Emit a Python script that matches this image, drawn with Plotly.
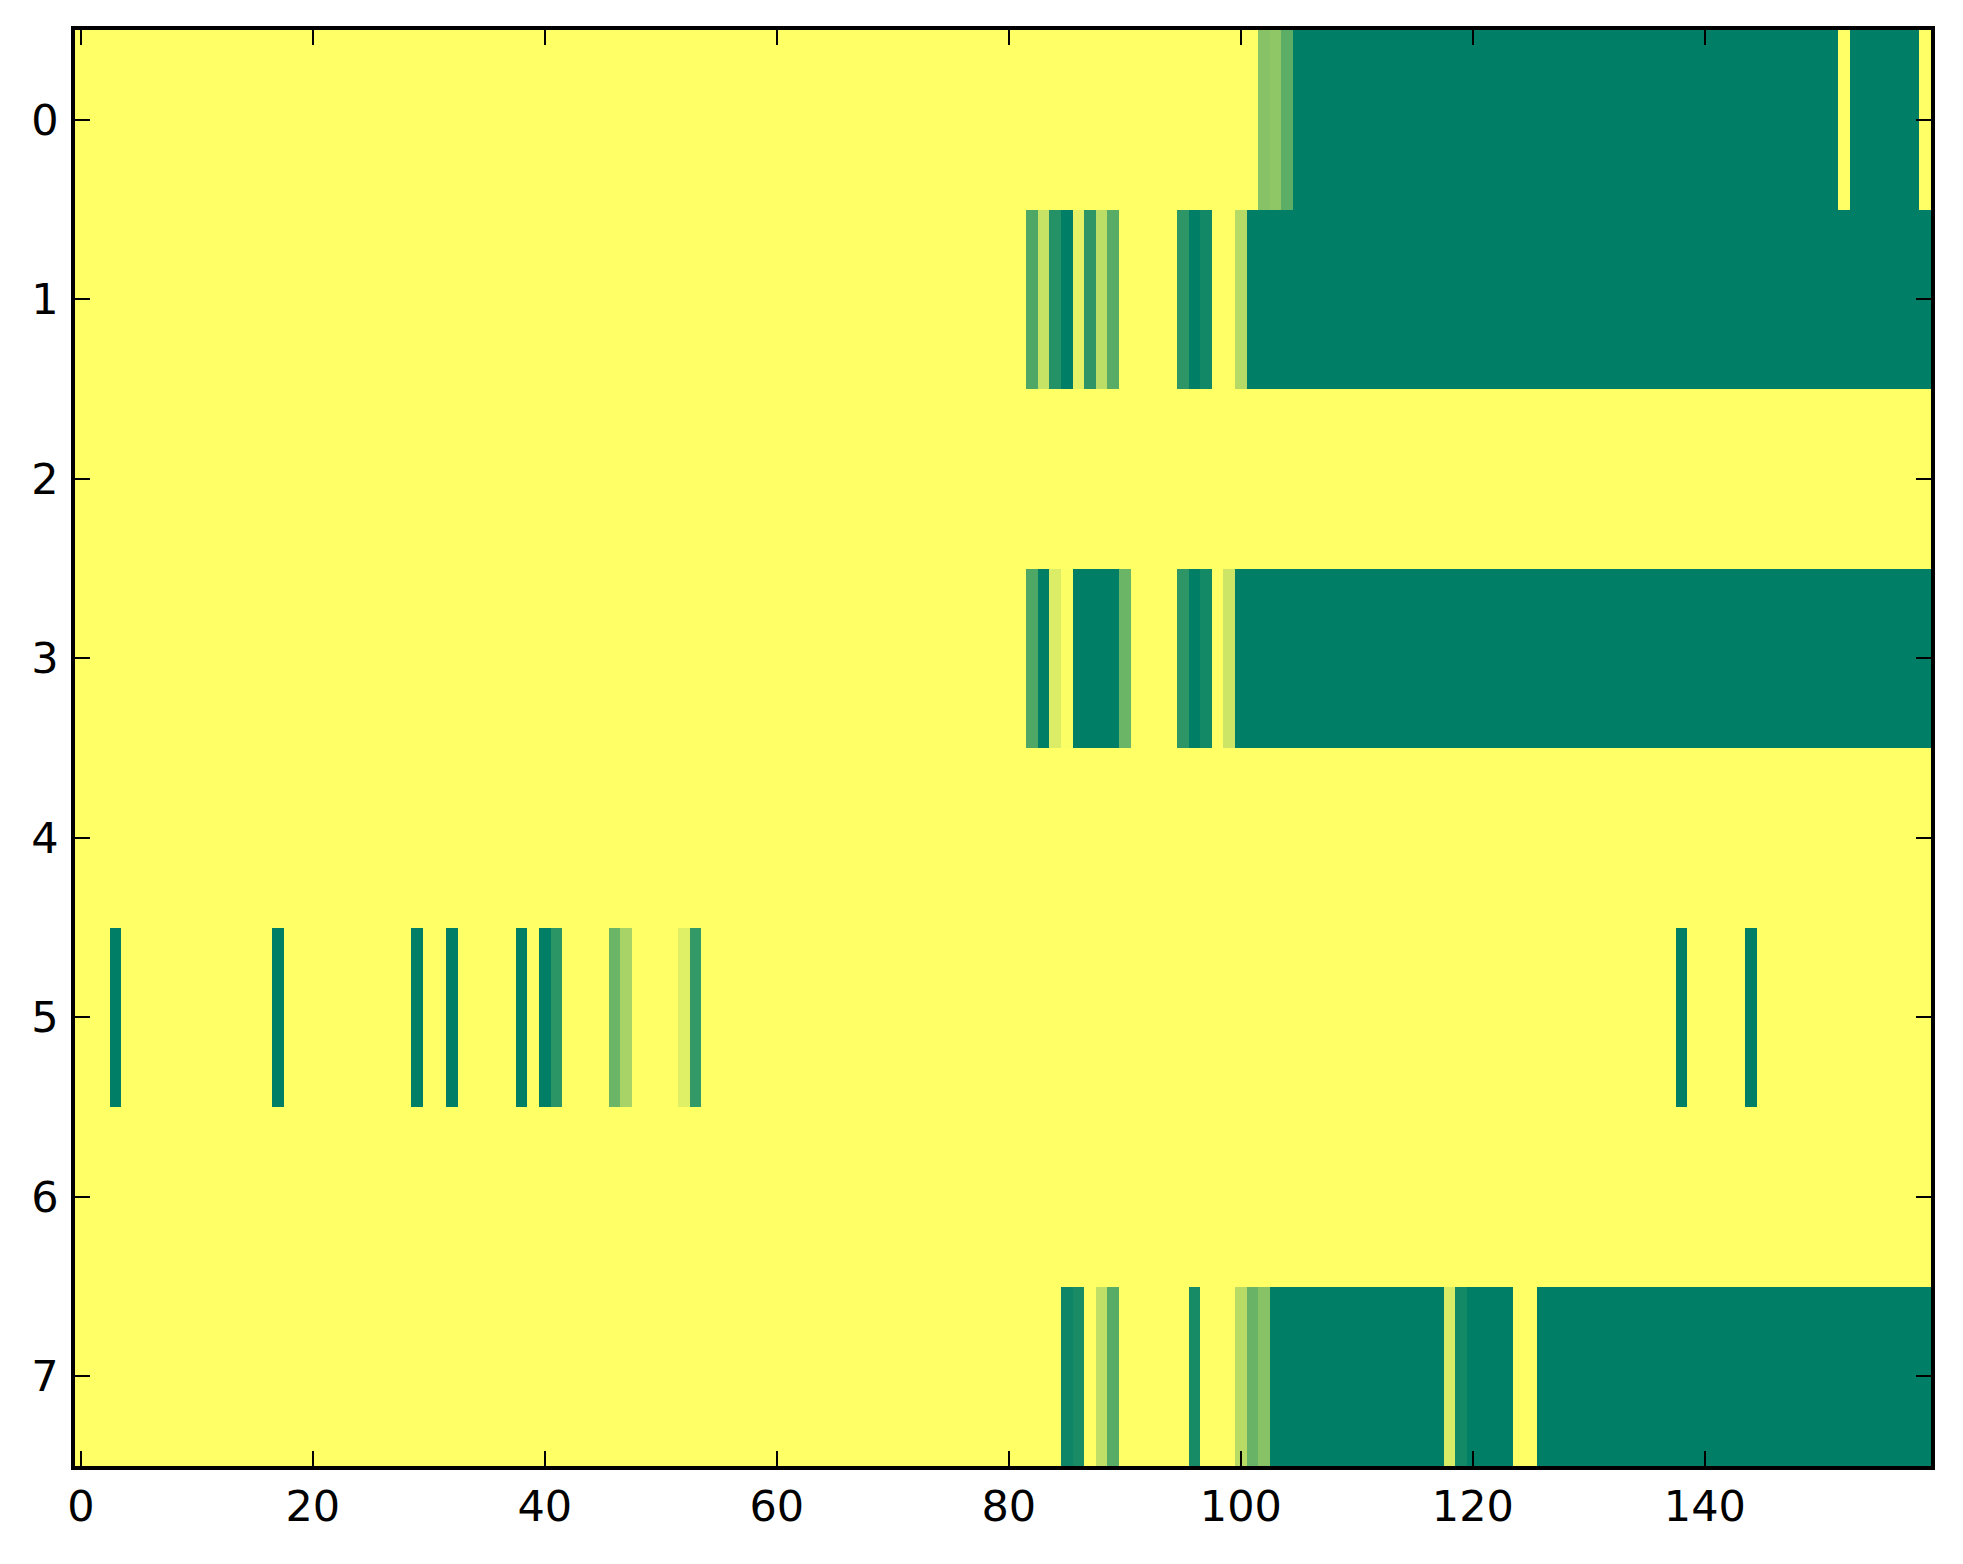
import plotly.graph_objects as go


# --------------------------------------------------------------
# Data: 8 rows x 160 columns, values 0..1
# --------------------------------------------------------------

row_0 = [
    0, 0, 0, 0, 0, 0, 0, 0, 0, 0, 0, 0, 0, 0, 0, 0, 0, 0, 0, 0,
    0, 0, 0, 0, 0, 0, 0, 0, 0, 0, 0, 0, 0, 0, 0, 0, 0, 0, 0, 0,
    0, 0, 0, 0, 0, 0, 0, 0, 0, 0, 0, 0, 0, 0, 0, 0, 0, 0, 0, 0,
    0, 0, 0, 0, 0, 0, 0, 0, 0, 0, 0, 0, 0, 0, 0, 0, 0, 0, 0, 0,
    0, 0, 0, 0, 0, 0, 0, 0, 0, 0, 0, 0, 0, 0, 0, 0, 0, 0, 0, 0,
    0, 0, .47, .44, .64, 1, 1, 1, 1, 1, 1, 1, 1, 1, 1, 1, 1, 1, 1, 1,
    1, 1, 1, 1, 1, 1, 1, 1, 1, 1, 1, 1, 1, 1, 1, 1, 1, 1, 1, 1,
    1, 1, 1, 1, 1, 1, 1, 1, 1, 1, 1, 1, 0, 1, 1, 1, 1, 1, 1, 0,
]

row_1 = [
    0, 0, 0, 0, 0, 0, 0, 0, 0, 0, 0, 0, 0, 0, 0, 0, 0, 0, 0, 0,
    0, 0, 0, 0, 0, 0, 0, 0, 0, 0, 0, 0, 0, 0, 0, 0, 0, 0, 0, 0,
    0, 0, 0, 0, 0, 0, 0, 0, 0, 0, 0, 0, 0, 0, 0, 0, 0, 0, 0, 0,
    0, 0, 0, 0, 0, 0, 0, 0, 0, 0, 0, 0, 0, 0, 0, 0, 0, 0, 0, 0,
    0, 0, .69, .22, .86, 1, .1, .82, .26, .65, 0, 0, 0, 0, 0, .82, 1, .93, 0, 0,
    .29, 1, 1, 1, 1, 1, 1, 1, 1, 1, 1, 1, 1, 1, 1, 1, 1, 1, 1, 1,
    1, 1, 1, 1, 1, 1, 1, 1, 1, 1, 1, 1, 1, 1, 1, 1, 1, 1, 1, 1,
    1, 1, 1, 1, 1, 1, 1, 1, 1, 1, 1, 1, 1, 1, 1, 1, 1, 1, 1, 1,
]

row_2 = [
    0, 0, 0, 0, 0, 0, 0, 0, 0, 0, 0, 0, 0, 0, 0, 0, 0, 0, 0, 0,
    0, 0, 0, 0, 0, 0, 0, 0, 0, 0, 0, 0, 0, 0, 0, 0, 0, 0, 0, 0,
    0, 0, 0, 0, 0, 0, 0, 0, 0, 0, 0, 0, 0, 0, 0, 0, 0, 0, 0, 0,
    0, 0, 0, 0, 0, 0, 0, 0, 0, 0, 0, 0, 0, 0, 0, 0, 0, 0, 0, 0,
    0, 0, 0, 0, 0, 0, 0, 0, 0, 0, 0, 0, 0, 0, 0, 0, 0, 0, 0, 0,
    0, 0, 0, 0, 0, 0, 0, 0, 0, 0, 0, 0, 0, 0, 0, 0, 0, 0, 0, 0,
    0, 0, 0, 0, 0, 0, 0, 0, 0, 0, 0, 0, 0, 0, 0, 0, 0, 0, 0, 0,
    0, 0, 0, 0, 0, 0, 0, 0, 0, 0, 0, 0, 0, 0, 0, 0, 0, 0, 0, 0,
]

row_3 = [
    0, 0, 0, 0, 0, 0, 0, 0, 0, 0, 0, 0, 0, 0, 0, 0, 0, 0, 0, 0,
    0, 0, 0, 0, 0, 0, 0, 0, 0, 0, 0, 0, 0, 0, 0, 0, 0, 0, 0, 0,
    0, 0, 0, 0, 0, 0, 0, 0, 0, 0, 0, 0, 0, 0, 0, 0, 0, 0, 0, 0,
    0, 0, 0, 0, 0, 0, 0, 0, 0, 0, 0, 0, 0, 0, 0, 0, 0, 0, 0, 0,
    0, 0, .69, 1, .14, .01, 1, 1, 1, 1, .58, 0, 0, 0, 0, .82, 1, .92, 0, .2,
    1, 1, 1, 1, 1, 1, 1, 1, 1, 1, 1, 1, 1, 1, 1, 1, 1, 1, 1, 1,
    1, 1, 1, 1, 1, 1, 1, 1, 1, 1, 1, 1, 1, 1, 1, 1, 1, 1, 1, 1,
    1, 1, 1, 1, 1, 1, 1, 1, 1, 1, 1, 1, 1, 1, 1, 1, 1, 1, 1, 1,
]

row_4 = [
    0, 0, 0, 0, 0, 0, 0, 0, 0, 0, 0, 0, 0, 0, 0, 0, 0, 0, 0, 0,
    0, 0, 0, 0, 0, 0, 0, 0, 0, 0, 0, 0, 0, 0, 0, 0, 0, 0, 0, 0,
    0, 0, 0, 0, 0, 0, 0, 0, 0, 0, 0, 0, 0, 0, 0, 0, 0, 0, 0, 0,
    0, 0, 0, 0, 0, 0, 0, 0, 0, 0, 0, 0, 0, 0, 0, 0, 0, 0, 0, 0,
    0, 0, 0, 0, 0, 0, 0, 0, 0, 0, 0, 0, 0, 0, 0, 0, 0, 0, 0, 0,
    0, 0, 0, 0, 0, 0, 0, 0, 0, 0, 0, 0, 0, 0, 0, 0, 0, 0, 0, 0,
    0, 0, 0, 0, 0, 0, 0, 0, 0, 0, 0, 0, 0, 0, 0, 0, 0, 0, 0, 0,
    0, 0, 0, 0, 0, 0, 0, 0, 0, 0, 0, 0, 0, 0, 0, 0, 0, 0, 0, 0,
]

row_5 = [
    0, 0, 0, 1, 0, 0, 0, 0, 0, 0, 0, 0, 0, 0, 0, 0, 0, 1, 0, 0,
    0, 0, 0, 0, 0, 0, 0, 0, 0, 1, 0, 0, 1, 0, 0, 0, 0, 0, 1, 0,
    1, .83, 0, 0, 0, 0, .58, .34, 0, 0, 0, 0, .12, .8, 0, 0, 0, 0, 0, 0,
    0, 0, 0, 0, 0, 0, 0, 0, 0, 0, 0, 0, 0, 0, 0, 0, 0, 0, 0, 0,
    0, 0, 0, 0, 0, 0, 0, 0, 0, 0, 0, 0, 0, 0, 0, 0, 0, 0, 0, 0,
    0, 0, 0, 0, 0, 0, 0, 0, 0, 0, 0, 0, 0, 0, 0, 0, 0, 0, 0, 0,
    0, 0, 0, 0, 0, 0, 0, 0, 0, 0, 0, 0, 0, 0, 0, 0, 0, 0, 1, 0,
    0, 0, 0, 0, 1, 0, 0, 0, 0, 0, 0, 0, 0, 0, 0, 0, 0, 0, 0, 0,
]

row_6 = [
    0, 0, 0, 0, 0, 0, 0, 0, 0, 0, 0, 0, 0, 0, 0, 0, 0, 0, 0, 0,
    0, 0, 0, 0, 0, 0, 0, 0, 0, 0, 0, 0, 0, 0, 0, 0, 0, 0, 0, 0,
    0, 0, 0, 0, 0, 0, 0, 0, 0, 0, 0, 0, 0, 0, 0, 0, 0, 0, 0, 0,
    0, 0, 0, 0, 0, 0, 0, 0, 0, 0, 0, 0, 0, 0, 0, 0, 0, 0, 0, 0,
    0, 0, 0, 0, 0, 0, 0, 0, 0, 0, 0, 0, 0, 0, 0, 0, 0, 0, 0, 0,
    0, 0, 0, 0, 0, 0, 0, 0, 0, 0, 0, 0, 0, 0, 0, 0, 0, 0, 0, 0,
    0, 0, 0, 0, 0, 0, 0, 0, 0, 0, 0, 0, 0, 0, 0, 0, 0, 0, 0, 0,
    0, 0, 0, 0, 0, 0, 0, 0, 0, 0, 0, 0, 0, 0, 0, 0, 0, 0, 0, 0,
]

row_7 = [
    0, 0, 0, 0, 0, 0, 0, 0, 0, 0, 0, 0, 0, 0, 0, 0, 0, 0, 0, 0,
    0, 0, 0, 0, 0, 0, 0, 0, 0, 0, 0, 0, 0, 0, 0, 0, 0, 0, 0, 0,
    0, 0, 0, 0, 0, 0, 0, 0, 0, 0, 0, 0, 0, 0, 0, 0, 0, 0, 0, 0,
    0, 0, 0, 0, 0, 0, 0, 0, 0, 0, 0, 0, 0, 0, 0, 0, 0, 0, 0, 0,
    0, 0, 0, 0, 0, .95, .9, 0, .25, .65, 0, 0, 0, 0, 0, 0, .91, 0, 0, 0,
    .28, .59, .47, 1, 1, 1, 1, 1, 1, 1, 1, 1, 1, 1, 1, 1, 1, 1, .15, .92,
    1, 1, 1, 1, 0, 0, 1, 1, 1, 1, 1, 1, 1, 1, 1, 1, 1, 1, 1, 1,
    1, 1, 1, 1, 1, 1, 1, 1, 1, 1, 1, 1, 1, 1, 1, 1, 1, 1, 1, 1,
]

rows = [row_0, row_1, row_2, row_3, row_4, row_5, row_6, row_7]
row_labels = [0, 1, 2, 3, 4, 5, 6, 7]
col_index = list(range(160))
x_ticks = [0, 20, 40, 60, 80, 100, 120, 140]

# summer_r colormap: 0 -> yellow, 1 -> green
summer_r = [[0.0, "#ffff66"], [1.0, "#007f66"]]


# --------------------------------------------------------------
# Plot
# --------------------------------------------------------------

fig = go.Figure()
fig.add_trace(go.Heatmap(z=rows, x=col_index, y=row_labels,
                         colorscale=summer_r, zmin=0, zmax=1,
                         showscale=False, hoverinfo="skip"))

axis_style = dict(showline=True, linecolor="black", linewidth=3.5,
                  mirror="ticks", ticks="inside", ticklen=15, tickwidth=2,
                  tickcolor="black", showgrid=False, zeroline=False,
                  tickfont=dict(family="DejaVu Sans", size=43, color="black"))

fig.update_xaxes(range=[-0.5, 159.5], tickvals=x_ticks, ticklabelstandoff=0,
                 **axis_style)
fig.update_yaxes(range=[7.5, -0.5], tickvals=row_labels, ticklabelstandoff=4,
                 **axis_style)

fig.update_layout(width=1963, height=1564,
                  margin=dict(l=67, r=40, t=22, b=106),
                  plot_bgcolor="white", paper_bgcolor="white")

fig.write_html("out.html")
